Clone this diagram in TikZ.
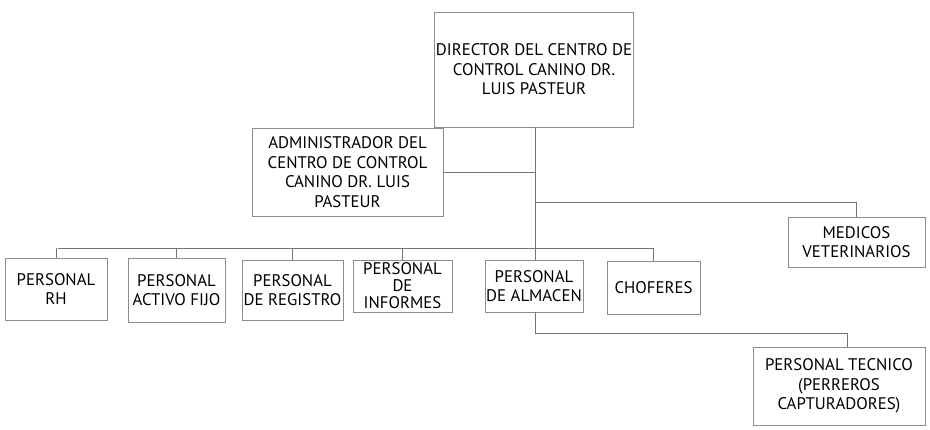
\documentclass[tikz,border=0pt]{standalone}
\usepackage{fontspec}
\setmainfont{PT Sans}
\begin{document}
\begin{tikzpicture}[x=1pt,y=-1pt,
  box/.style={draw=black!45, line width=0.7pt, rectangle, align=center, inner sep=1pt,
    font=\fontsize{16.8}{19.5}\selectfont, text=black},
  conn/.style={draw=black!55, line width=0.8pt}]
\useasboundingbox (0,0) rectangle (930,430);
\node[box, minimum width=199pt, minimum height=115pt] (dir) at (534,69.5) {DIRECTOR DEL CENTRO DE\\CONTROL CANINO DR.\\LUIS PASTEUR};
\node[box, minimum width=191pt, minimum height=88pt] (adm) at (347.5,172) {ADMINISTRADOR DEL\\CENTRO DE CONTROL\\CANINO DR. LUIS\\PASTEUR};
\node[box, minimum width=137pt, minimum height=50pt] (med) at (856.5,242) {MEDICOS\\VETERINARIOS};
\node[box, minimum width=102pt, minimum height=62pt] (rh) at (56,289) {PERSONAL\\RH};
\node[box, minimum width=97pt, minimum height=64pt] (act) at (176.5,290) {PERSONAL\\ACTIVO FIJO};
\node[box, minimum width=101pt, minimum height=60pt] (reg) at (292.5,290) {PERSONAL\\DE REGISTRO};
\node[box, minimum width=99pt, minimum height=52pt, font=\fontsize{16.8}{17}\selectfont] (inf) at (402.5,286) {PERSONAL\\DE\\INFORMES};
\node[box, minimum width=98pt, minimum height=52pt] (alm) at (534,286) {PERSONAL\\DE ALMACEN};
\node[box, minimum width=93pt, minimum height=53pt] (cho) at (653.5,287.5) {CHOFERES};
\node[box, minimum width=172pt, minimum height=78pt] (tec) at (839,386) {PERSONAL TECNICO\\(PERREROS\\CAPTURADORES)};
% junctions
\coordinate (tb) at (535,248);
\coordinate (bl) at (58,248);
\coordinate (br) at (653.5,248);
\coordinate (mj) at (535,202);
\coordinate (ak) at (535,333);
\coordinate (tk) at (847,333);
\path[conn] (dir.south -| tb) -- (tb);
\path[conn] (adm.east) -- (adm.east -| tb);
\path[conn] (mj) -- (mj -| med.north) -- (med.north);
\path[conn] (bl) -- (br);
\foreach \n in {rh,act,reg,inf,cho} { \path[conn] (\n.north |- tb) -- (\n.north); }
\path[conn] (tb) -- (alm.north -| tb);
\path[conn] (alm.south -| ak) -- (ak) -- (tk) -- (tec.north -| tk);
\end{tikzpicture}
\end{document}
